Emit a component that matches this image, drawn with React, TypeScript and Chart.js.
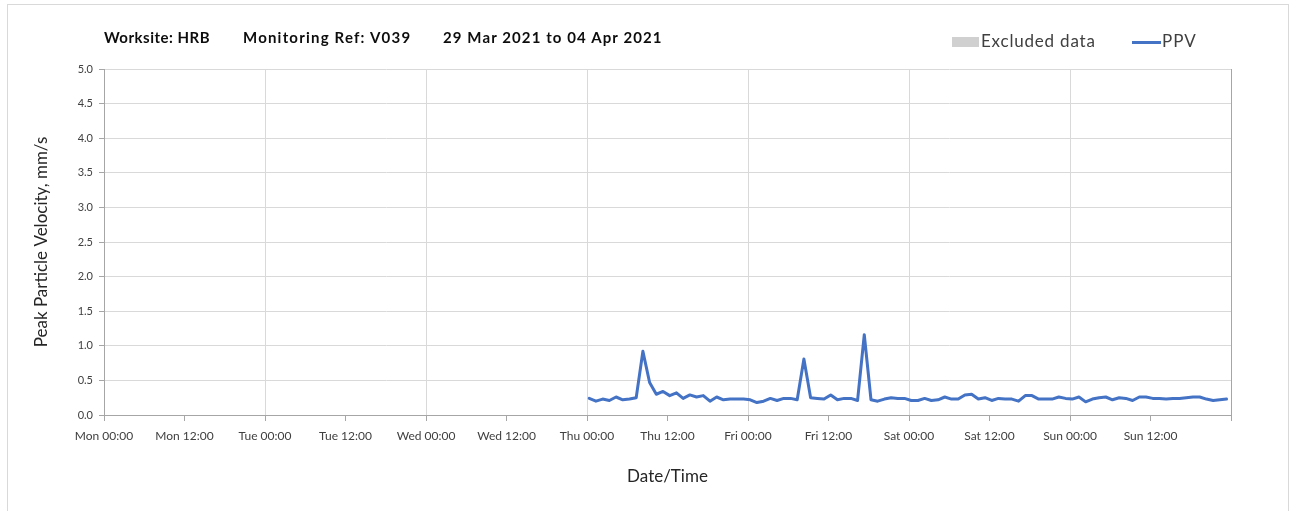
import React, { useEffect, useRef } from "react";
import { Chart, registerables } from "chart.js";

Chart.register(...registerables);

// Reading times, hours since Mon 00:00 (hourly readings from Thu, ~20 min past the hour)
const hours: number[] = Array.from({ length: 96 }, (_, i) => 72 + 1 / 3 + i);

// PPV values, mm/s
const ppvValues: number[] = [
  // Thu
  0.24, 0.2, 0.23, 0.21, 0.26, 0.22, 0.23, 0.25, 0.92, 0.47, 0.3, 0.34,
  0.28, 0.32, 0.24, 0.29, 0.26, 0.28, 0.2, 0.26, 0.22, 0.23, 0.23, 0.23,
  // Fri
  0.22, 0.18, 0.2, 0.24, 0.21, 0.24, 0.24, 0.22, 0.81, 0.25, 0.24, 0.23,
  0.29, 0.22, 0.24, 0.24, 0.21, 1.16, 0.22, 0.2, 0.23, 0.25, 0.24, 0.24,
  // Sat
  0.21, 0.21, 0.24, 0.21, 0.22, 0.26, 0.23, 0.23, 0.29, 0.3, 0.23, 0.25,
  0.21, 0.24, 0.23, 0.23, 0.2, 0.28, 0.28, 0.23, 0.23, 0.23, 0.26, 0.24,
  // Sun
  0.23, 0.26, 0.19, 0.23, 0.25, 0.26, 0.22, 0.25, 0.24, 0.21, 0.26, 0.26,
  0.24, 0.24, 0.23, 0.24, 0.24, 0.25, 0.26, 0.26, 0.23, 0.21, 0.22, 0.23,
];

// X tick labels every 12 hours from Mon 00:00
const xTickLabels: string[] = [
  "Mon 00:00", "Mon 12:00", "Tue 00:00", "Tue 12:00", "Wed 00:00", "Wed 12:00",
  "Thu 00:00", "Thu 12:00", "Fri 00:00", "Fri 12:00", "Sat 00:00", "Sat 12:00",
  "Sun 00:00", "Sun 12:00",
];

const titleParts: string[] = ["Worksite: HRB", "Monitoring Ref: V039", "29 Mar 2021 to 04 Apr 2021"];
const xAxisTitle = "Date/Time";
const yAxisTitle = "Peak Particle Velocity, mm/s";
const legendExcluded = "Excluded data";
const legendPPV = "PPV";

const FONT = "Lato, 'Open Sans', sans-serif";
const LINE_COLOR = "#4472C4";

export default function App() {
  const canvasRef = useRef<HTMLCanvasElement | null>(null);

  useEffect(() => {
    if (!canvasRef.current) return;
    const chart = new Chart(canvasRef.current, {
      type: "line",
      data: {
        datasets: [
          {
            label: legendPPV,
            data: hours.map((h, i) => ({ x: h, y: ppvValues[i] })),
            borderColor: LINE_COLOR,
            backgroundColor: LINE_COLOR,
            borderWidth: 3,
            borderJoinStyle: "round",
            borderCapStyle: "round",
            pointRadius: 0,
            tension: 0,
            fill: false,
          },
        ],
      },
      options: {
        animation: false,
        responsive: false,
        maintainAspectRatio: false,
        layout: { padding: { left: 27, right: 66, top: 69, bottom: 20 } },
        plugins: {
          legend: { display: false },
          title: { display: false },
          tooltip: { enabled: false },
        },
        scales: {
          x: {
            type: "linear",
            min: 0,
            max: 168,
            afterFit: (scale: any) => {
              scale.height = 76;
            },
            afterBuildTicks: (scale: any) => {
              const t = [];
              for (let v = 0; v <= 168; v += 12) t.push({ value: v });
              scale.ticks = t;
            },
            ticks: {
              autoSkip: false,
              maxRotation: 0,
              padding: 8,
              color: "#404040",
              font: { family: FONT, size: 12 },
              callback: (v: any) => {
                const idx = Math.round(Number(v) / 12);
                return xTickLabels[idx] ?? "";
              },
            },
            grid: {
              color: (ctx: any) => {
                const v = ctx.tick ? ctx.tick.value : 0;
                if (v === 168) return "#a6a6a6";
                return v % 24 === 0 ? "#d9d9d9" : "rgba(0,0,0,0)";
              },
              tickColor: "#a6a6a6",
              tickLength: 6,
              lineWidth: 1,
            },
            border: { color: "#a6a6a6", width: 1 },
            title: {
              display: true,
              text: xAxisTitle,
              color: "#262626",
              font: { family: FONT, size: 17 },
              padding: 4,
            },
          },
          y: {
            type: "linear",
            min: 0,
            max: 5,
            afterFit: (scale: any) => {
              scale.width = 77;
            },
            ticks: {
              stepSize: 0.5,
              padding: 6,
              color: "#404040",
              font: { family: FONT, size: 11 },
              callback: (v: any) => Number(v).toFixed(1),
            },
            grid: {
              color: "#d9d9d9",
              tickColor: "#a6a6a6",
              tickLength: 5,
              lineWidth: 1,
            },
            border: { color: "#a6a6a6", width: 1 },
            title: {
              display: true,
              text: yAxisTitle,
              color: "#262626",
              font: { family: FONT, size: 17 },
              padding: 4,
            },
          },
        },
      },
    });
    return () => chart.destroy();
  }, []);

  const titleLefts = [104, 243, 443];
  const titleSpacing = [0.5, 1.2, 1.1];

  return (
    <div style={{ position: "fixed", left: 0, top: 0, width: 1297, height: 511, background: "#fff", overflow: "hidden" }}>
      <div
        style={{
          position: "absolute",
          left: 7,
          top: 4,
          width: 1282,
          height: 520,
          border: "1px solid #d9d9d9",
          boxSizing: "border-box",
        }}
      />
      <canvas ref={canvasRef} width={1297} height={511} style={{ position: "absolute", left: 0, top: 0, width: 1297, height: 511 }} />
      {titleParts.map((t, i) => (
        <div
          key={i}
          style={{
            position: "absolute",
            left: titleLefts[i],
            top: 27,
            fontFamily: FONT,
            fontWeight: 700,
            fontSize: 15,
            letterSpacing: titleSpacing[i],
            color: "#0d0d0d",
            whiteSpace: "pre",
            lineHeight: "20px",
          }}
        >
          {t}
        </div>
      ))}
      <div style={{ position: "absolute", left: 952, top: 37, width: 27, height: 10, background: "#d0d0d0" }} />
      <div
        style={{
          position: "absolute",
          left: 981,
          top: 30,
          fontFamily: FONT,
          fontSize: 17,
          letterSpacing: 0.8,
          color: "#404040",
          whiteSpace: "pre",
          lineHeight: "22px",
        }}
      >
        {legendExcluded}
      </div>
      <div style={{ position: "absolute", left: 1132, top: 41, width: 29, height: 3, background: LINE_COLOR }} />
      <div
        style={{
          position: "absolute",
          left: 1162,
          top: 30,
          fontFamily: FONT,
          fontSize: 17,
          letterSpacing: 1,
          color: "#404040",
          whiteSpace: "pre",
          lineHeight: "22px",
        }}
      >
        {legendPPV}
      </div>
    </div>
  );
}
